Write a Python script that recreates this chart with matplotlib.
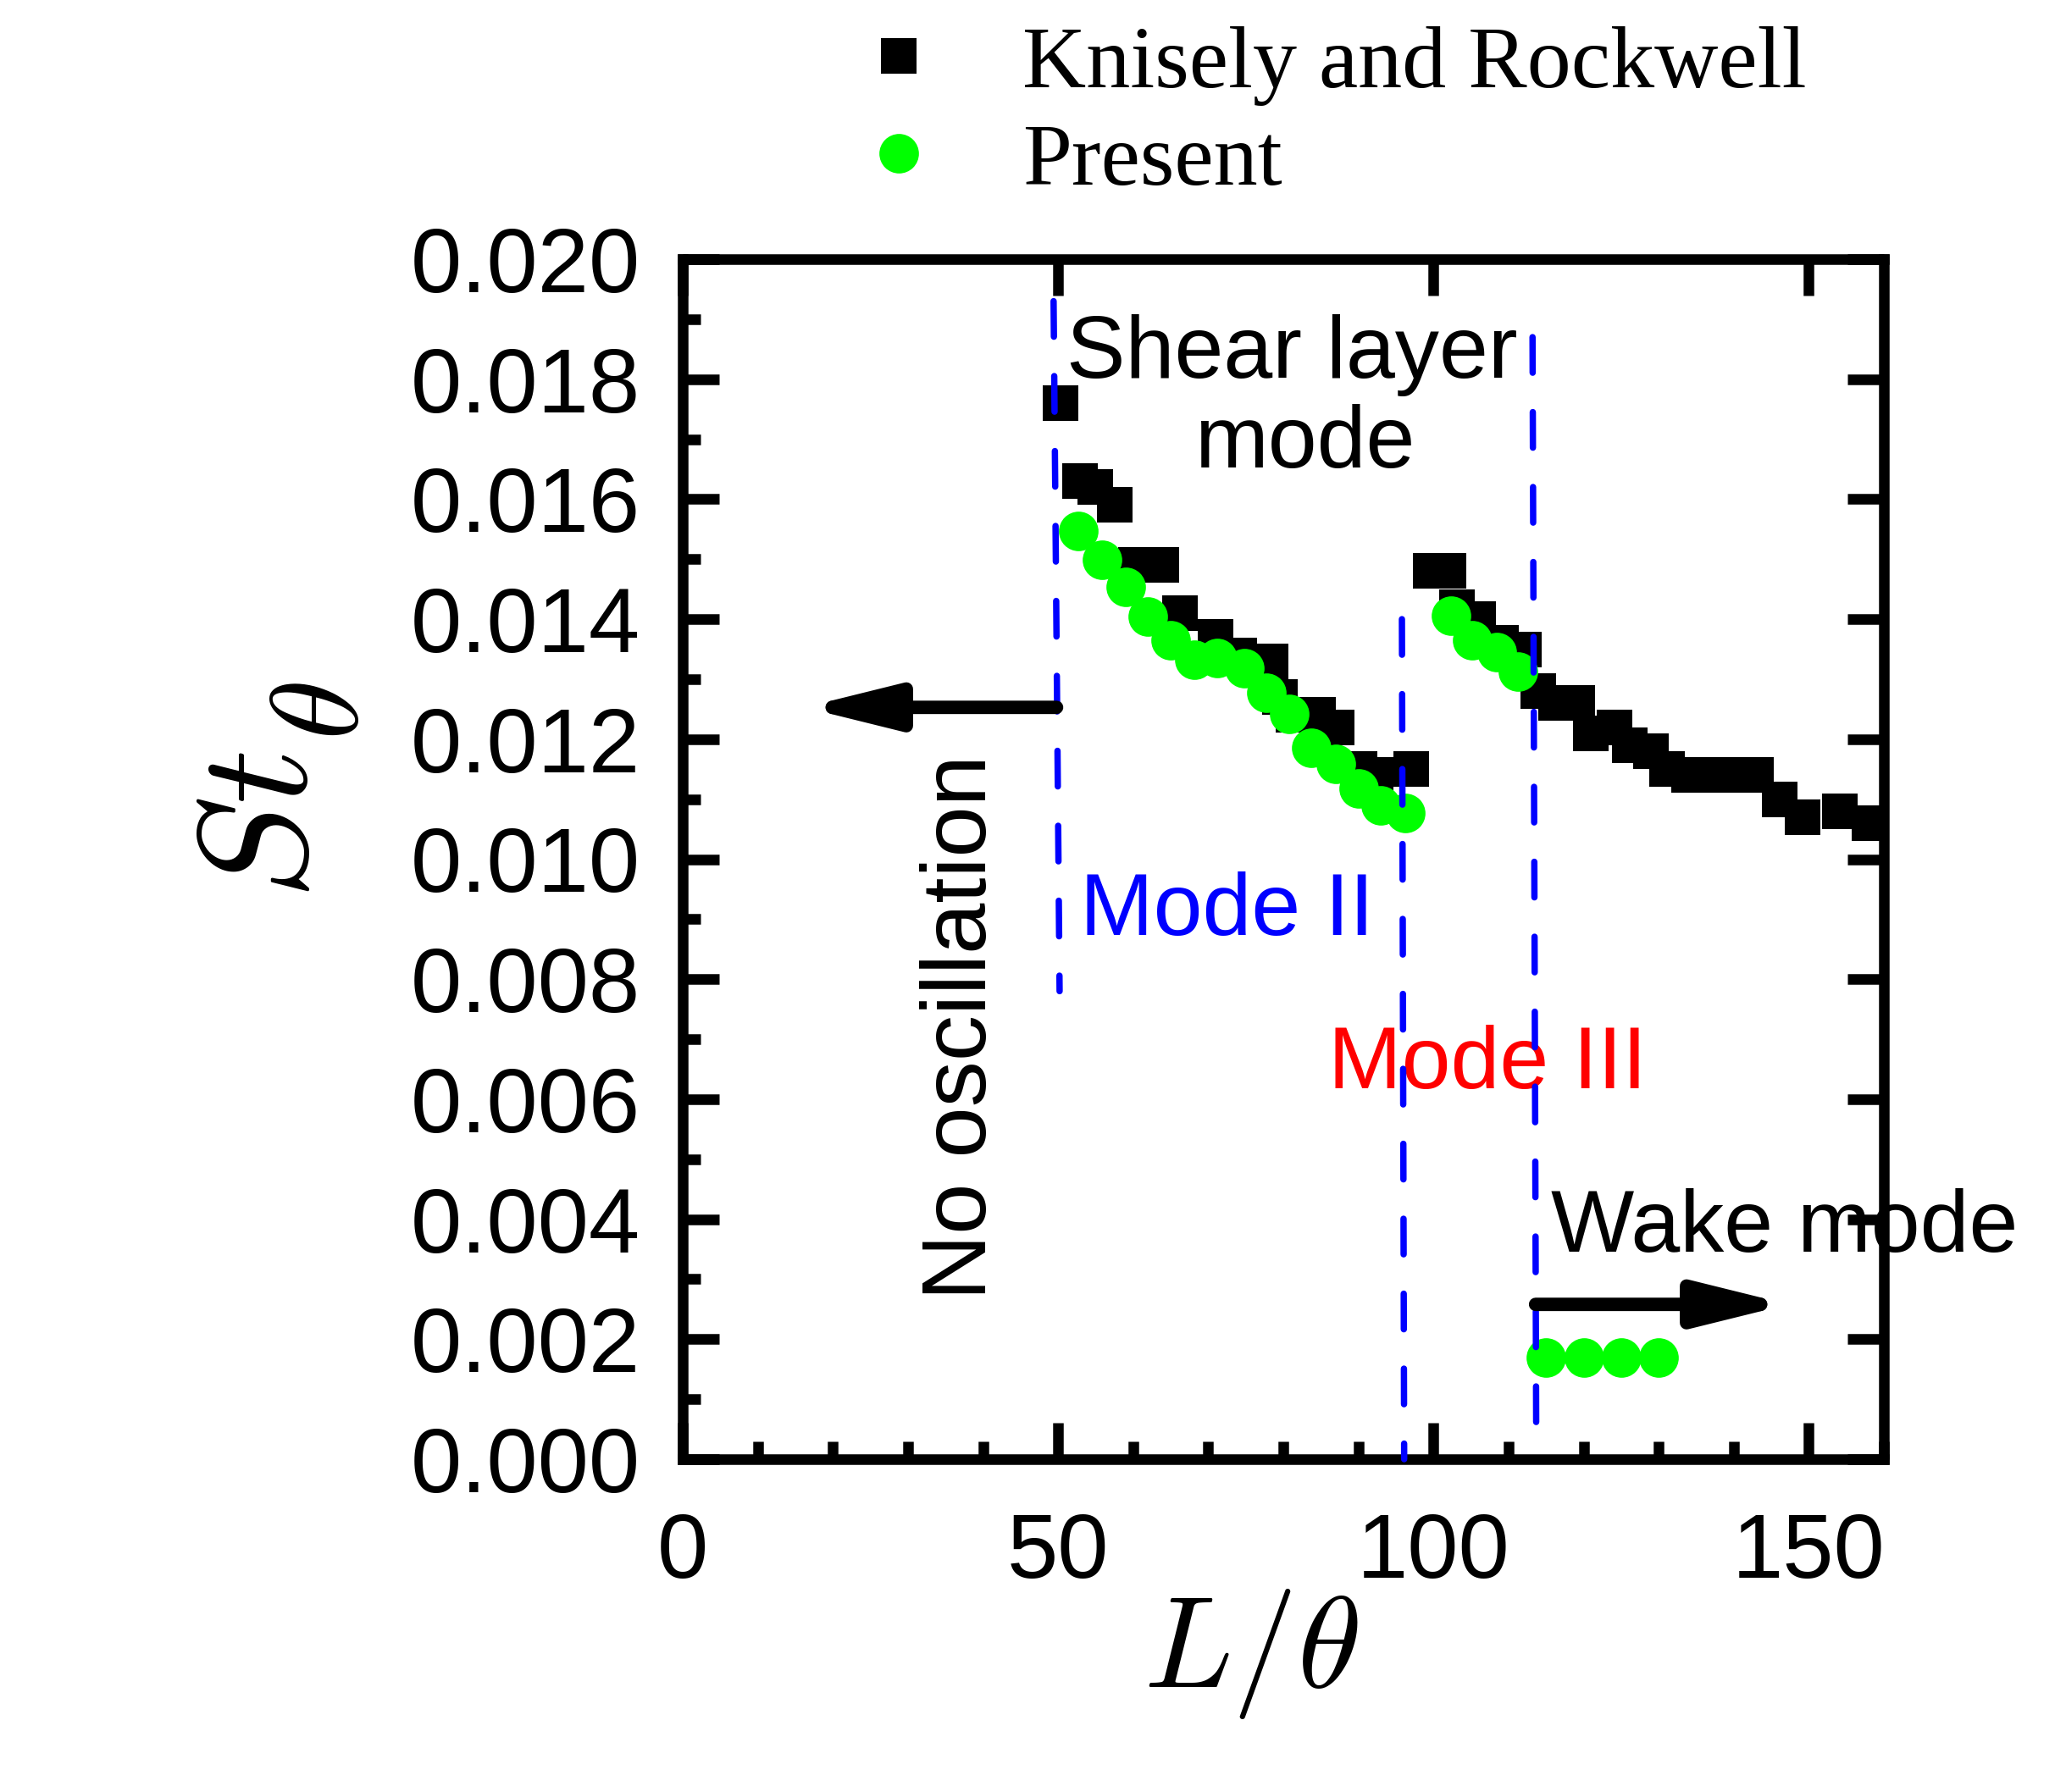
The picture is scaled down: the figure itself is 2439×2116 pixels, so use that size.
import matplotlib
matplotlib.use("Agg")
import matplotlib.pyplot as plt
from matplotlib.ticker import MultipleLocator, FormatStrFormatter

plt.rcParams['font.family'] = ['Liberation Sans', 'DejaVu Sans']
plt.rcParams['mathtext.fontset'] = 'cm'

# Knisely and Rockwell (black squares)
kr_x = [50.3, 52.9, 55.0, 57.5, 60.4, 63.7, 66.2, 71.0, 74.1, 78.3, 79.5, 81.3, 84.6, 87.1,
        90.1, 92.3, 97.0,
        99.6, 102.0, 103.1, 106.0, 109.0, 112.1, 114.0, 116.3, 119.1, 121.0, 124.1, 126.1,
        129.0, 131.1, 134.1, 137.1, 140.1, 143.0, 146.1, 149.2, 154.1, 158.1]
kr_y = [0.0176, 0.0163, 0.0162, 0.0159, 0.0149, 0.0149, 0.0141, 0.0137, 0.0134, 0.0133,
        0.0127, 0.0124, 0.0124, 0.0122, 0.0115, 0.0114, 0.0115,
        0.0148, 0.0148, 0.0142, 0.0140, 0.0136, 0.0135, 0.0128, 0.0126, 0.0126, 0.0121,
        0.0122, 0.0119, 0.0118, 0.0115, 0.0114, 0.0114, 0.0114, 0.0114, 0.0110, 0.0107,
        0.0108, 0.0106]

# Present (green circles)
pr_x = [52.7, 55.8, 59.0, 62.0, 65.0, 68.1, 71.2, 74.8, 77.7, 80.8, 83.7, 87.0, 90.0, 93.0, 96.3,
        102.3, 105.2, 108.4, 111.3,
        115.0, 120.0, 125.0, 130.0]
pr_y = [0.01547, 0.01499, 0.01454, 0.01405, 0.01365, 0.01332, 0.01335, 0.01318, 0.01277,
        0.01242, 0.01186, 0.01159, 0.01118, 0.01089, 0.01077,
        0.01406, 0.01365, 0.01345, 0.01313,
        0.0017, 0.0017, 0.0017, 0.0017]

# mode boundaries (slightly tilted hand-drawn dashed lines): (x_top, x_bottom, y_top, y_bottom)
bounds = [(49.4, 50.2, 0.0193, 0.0078),
          (95.8, 96.1, 0.0140, 0.0),
          (113.2, 113.7, 0.0187, 0.0)]

fig = plt.figure(figsize=(2439 / 300, 2116 / 300), dpi=300)
ax = fig.add_axes([806 / 2439, 1 - 1723 / 2116, (2224 - 806) / 2439, (1723 - 306) / 2116])

sq, = ax.plot(kr_x, kr_y, 's', color='black', ms=10.1, mew=0, ls='none',
              label='Knisely and Rockwell', zorder=3)
ci, = ax.plot(pr_x, pr_y, 'o', color='#00ff00', ms=11.2, mew=0, ls='none',
              label='Present', zorder=4)

for xt, xb, yt, yb in bounds:
    ax.plot([xt, xb], [yt, yb], color='#0000ff', lw=1.8, ls=(0, (5.6, 6.2)),
            dash_capstyle='round', zorder=5, clip_on=False)

arrow = dict(arrowstyle='-|>,head_length=2.1,head_width=0.52', mutation_scale=10,
             lw=3.8, color='black', shrinkA=0, shrinkB=0, joinstyle='round', capstyle='round')
ax.annotate('', xy=(16.2, 0.01253), xytext=(49.8, 0.01253), arrowprops=arrow, zorder=6)
ax.annotate('', xy=(147.3, 0.00258), xytext=(113.6, 0.00258), arrowprops=arrow, zorder=6)

fs = 25
ax.text(81.2, 0.01802, 'Shear layer', fontsize=fs, ha='center', va='baseline')
ax.text(82.8, 0.01653, 'mode', fontsize=fs, ha='center', va='baseline')
ax.text(52.9, 0.00873, 'Mode II', fontsize=fs, color='#0000ff', ha='left', va='baseline')
ax.text(86.0, 0.00618, 'Mode III', fontsize=fs, color='#ff0000', ha='left', va='baseline')
ax.text(115.6, 0.00346, 'Wake mode', fontsize=fs, ha='left', va='baseline')
ax.text(37.2, 0.0072, 'No oscillation', fontsize=26, rotation=90, ha='center', va='center')

ax.set_xlim(0, 160)
ax.set_ylim(0, 0.020)
ax.xaxis.set_major_locator(MultipleLocator(50))
ax.xaxis.set_minor_locator(MultipleLocator(10))
ax.yaxis.set_major_locator(MultipleLocator(0.002))
ax.yaxis.set_minor_locator(MultipleLocator(0.001))
ax.yaxis.set_major_formatter(FormatStrFormatter('%.3f'))

for s in ax.spines.values():
    s.set_linewidth(3)
ax.tick_params(which='major', direction='in', length=10.4, width=3, top=True, right=True,
               labelsize=26)
ax.tick_params(which='minor', direction='in', length=5, width=3, top=False, right=False)
ax.tick_params(axis='y', which='major', pad=12)
ax.tick_params(axis='x', which='major', pad=15)

# y label: St with a large theta subscript
fig.text(314 / 2439, 1 - 975 / 2116, r'$St$', fontsize=44, rotation=90,
         ha='center', va='center')
fig.text(384 / 2439, 1 - 840 / 2116, r'$\theta$', fontsize=35, rotation=90,
         ha='center', va='center')
fig.text(1477 / 2439, 1 - 1953 / 2116, r'$L/\theta$', fontsize=37, ha='center', va='center')

fig.legend(handles=[sq, ci], loc='upper left', bbox_to_anchor=(1009 / 2439, 1 - 30 / 2116),
           frameon=False, borderpad=0, borderaxespad=0, handlelength=1.0, handletextpad=0.9,
           labelspacing=0.19, numpoints=1,
           prop={'family': 'Liberation Serif', 'size': 25})

fig.savefig('out.png', dpi=300)
